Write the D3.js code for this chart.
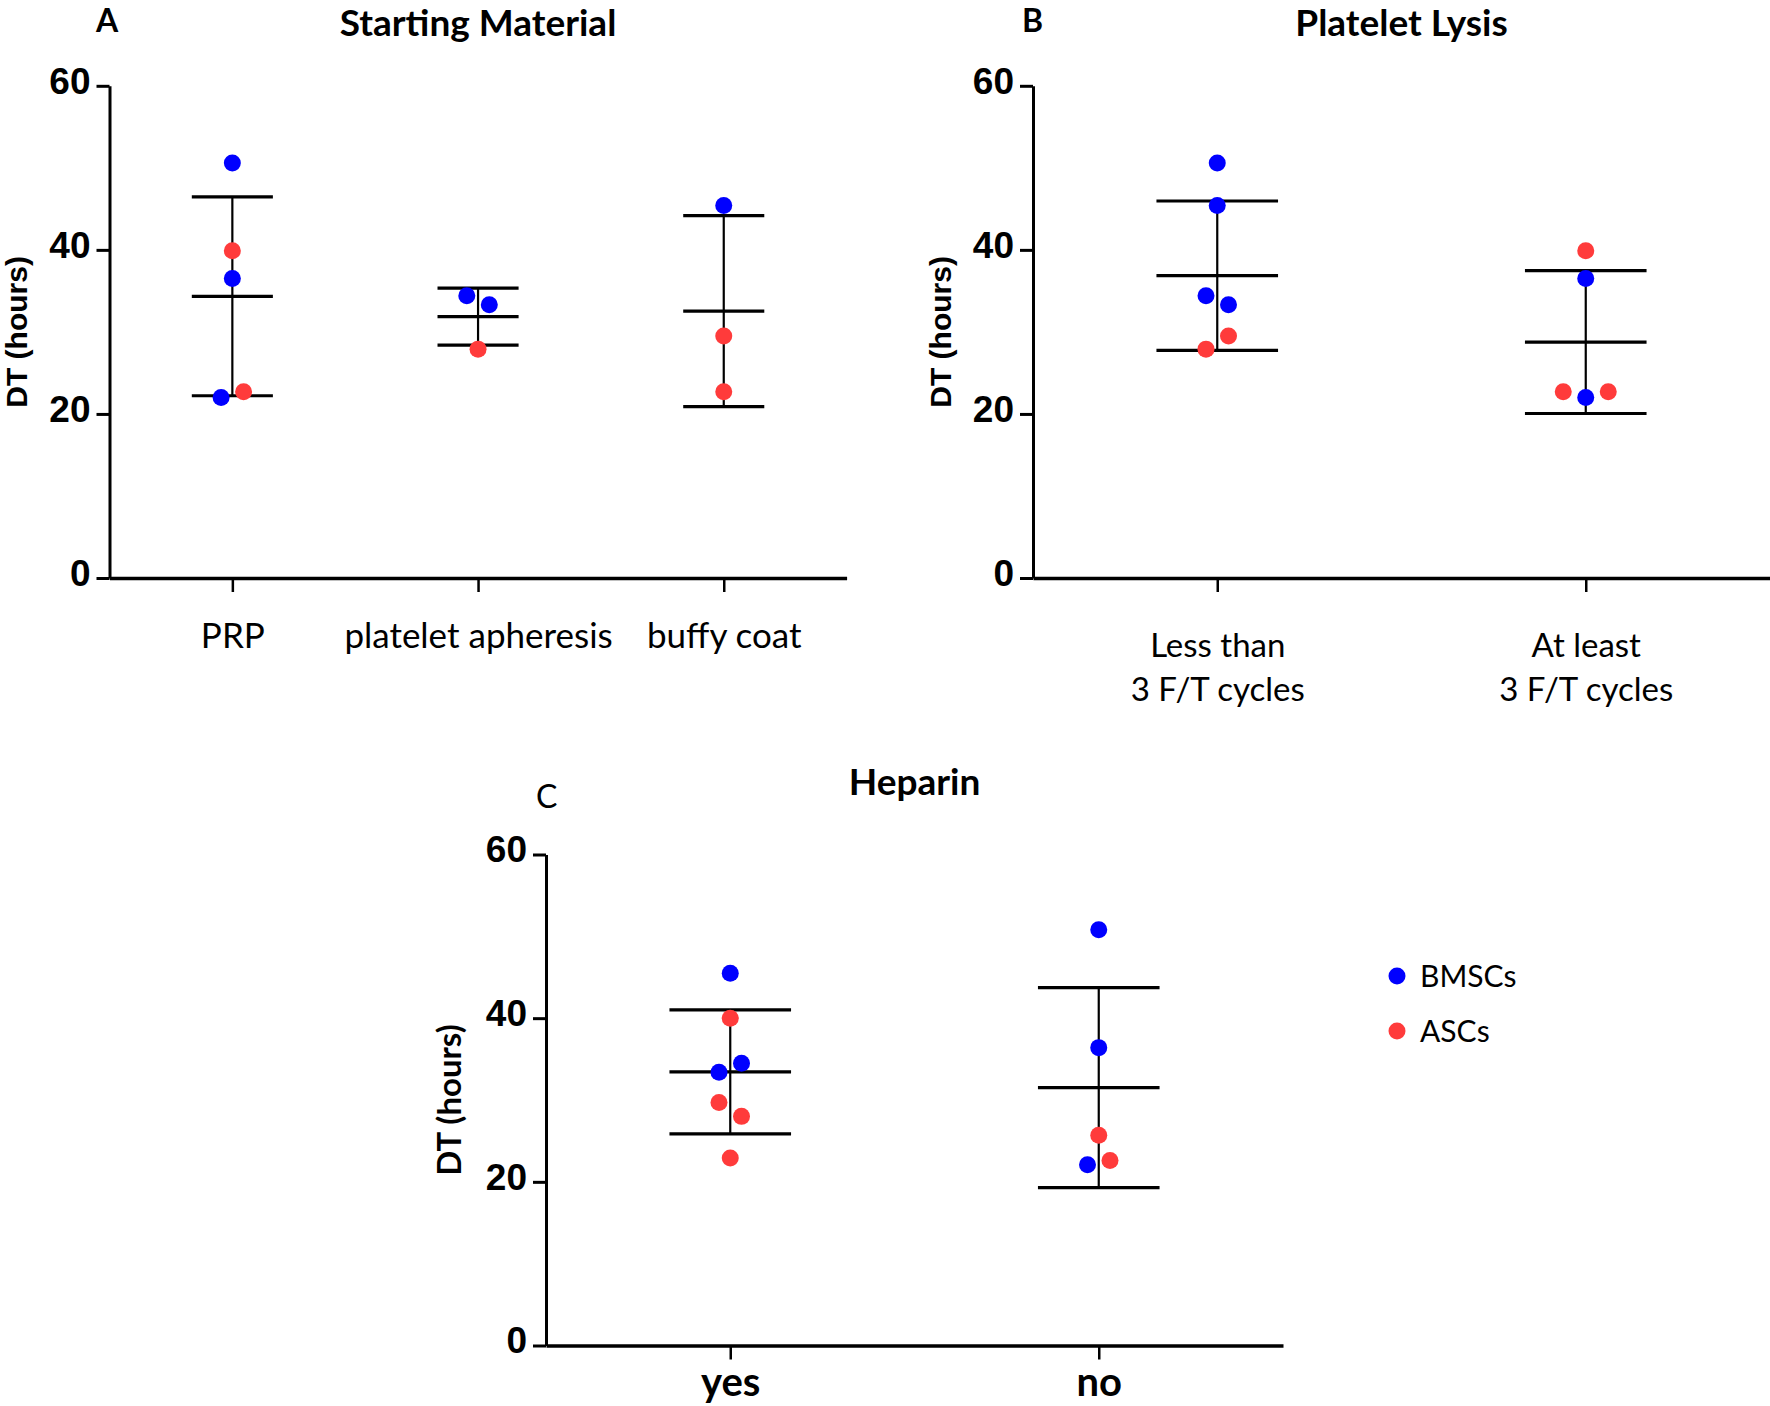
<!DOCTYPE html>
<html>
<head>
<meta charset="utf-8">
<script src="https://cdn.jsdelivr.net/npm/d3@7"></script>
<style>
  body { margin: 0; background: #fff; }
  svg { display: block; }
</style>
</head>
<body>
<svg id="chart" width="1770" height="1406"></svg>
<script>
const seriesNames = ['BMSCs', 'ASCs'];
const seriesColors = ['#0000ff', '#ff3b3b'];
const yTicks = [0, 20, 40, 60];

// A - starting material
const materialCats = ['PRP', 'platelet apheresis', 'buffy coat'];
const materialValues = [[50.6, 39.9, 36.5, 22.0, 22.7], [34.4, 33.3, 27.9], [45.4, 29.5, 22.7]];
const materialCells = [
    ['BMSCs', 'ASCs', 'BMSCs', 'BMSCs', 'ASCs'],
    ['BMSCs', 'BMSCs', 'ASCs'],
    ['BMSCs', 'ASCs', 'ASCs']
];

// B - platelet lysis
const lysisCats = ['Less than\n3 F/T cycles', 'At least\n3 F/T cycles'];
const lysisValues = [[50.6, 45.4, 34.4, 33.3, 27.9, 29.5], [39.9, 36.5, 22.7, 22.0, 22.7]];
const lysisCells = [
    ['BMSCs', 'BMSCs', 'BMSCs', 'BMSCs', 'ASCs', 'ASCs'],
    ['ASCs', 'BMSCs', 'ASCs', 'BMSCs', 'ASCs']
];

// C - heparin
const heparinCats = ['yes', 'no'];
const heparinValues = [[45.5, 40.0, 33.4, 34.5, 29.7, 28.0, 22.9], [50.8, 36.4, 25.7, 22.1, 22.6]];
const heparinCells = [
    ['BMSCs', 'ASCs', 'BMSCs', 'BMSCs', 'ASCs', 'ASCs', 'ASCs'],
    ['BMSCs', 'BMSCs', 'ASCs', 'BMSCs', 'ASCs']
];

const svg = d3.select('#chart');
const color = d3.scaleOrdinal().domain(seriesNames).range(seriesColors);
const dotR = 8.5;
const dodgeStep = 22.5;

// spread points that overlap vertically, in array order, left to right
const dodge = (pts, y) => {
    const sorted = pts.slice().sort((a, b) => b.v - a.v);
    let cluster = [];
    const flush = () => {
        cluster.sort((a, b) => a.i - b.i);
        cluster.forEach((p, k) => { p.dx = (k - (cluster.length - 1) / 2) * dodgeStep; });
        cluster = [];
    };
    sorted.forEach(p => {
        if (cluster.length && Math.abs(y(cluster[cluster.length - 1].v) - y(p.v)) > 18) flush();
        cluster.push(p);
    });
    flush();
    return pts;
};

const drawPanel = p => {
    const g = svg.append('g');
    const x = d3.scalePoint().domain(p.cats).range([p.left, p.right]).padding(0.5);
    const y = d3.scaleLinear().domain([0, 60]).range([p.bottom, p.top]);
    const capHalf = x.step() * 0.165;

    const yAxis = g.append('g')
        .attr('transform', `translate(${p.left},0)`)
        .call(d3.axisLeft(y).tickValues(yTicks).tickSize(13).tickPadding(6).tickSizeOuter(0));
    yAxis.select('.domain').attr('stroke-width', 3);
    yAxis.selectAll('.tick line').attr('stroke-width', 3);
    yAxis.selectAll('.tick text')
        .attr('dy', '0.2em')
        .style('font-family', '"Liberation Sans", Arial, sans-serif')
        .style('font-weight', 'bold')
        .style('font-size', '37px')
        .attr('fill', '#000');

    const xAxis = g.append('g')
        .attr('transform', `translate(0,${p.bottom})`)
        .call(d3.axisBottom(x).tickSize(14).tickSizeOuter(0));
    xAxis.select('.domain').attr('stroke-width', 3.5);
    xAxis.selectAll('.tick line').attr('stroke-width', 2.5);
    xAxis.selectAll('.tick text').remove();
    xAxis.selectAll('.tick').each(function(cat) {
        const t = d3.select(this).append('text')
            .attr('fill', '#000')
            .attr('text-anchor', 'middle')
            .style('font-family', 'Lato, sans-serif')
            .style('font-size', p.labelSize + 'px')
            .style('font-weight', p.labelBold ? 'bold' : 'normal');
        cat.split('\n').forEach((line, k) => {
            t.append('tspan').attr('x', 0).attr('y', p.labelDy + k * 44).text(line);
        });
    });

    // mean and SD bars
    const stats = p.values.map((vals, i) => ({
        cat: p.cats[i],
        mean: d3.mean(vals),
        sd: d3.deviation(vals)
    }));
    const bars = g.append('g').attr('stroke', '#000');
    bars.selectAll('line.stem')
        .data(stats)
        .join('line')
        .attr('class', 'stem')
        .attr('x1', d => x(d.cat)).attr('x2', d => x(d.cat))
        .attr('y1', d => y(d.mean - d.sd)).attr('y2', d => y(d.mean + d.sd))
        .attr('stroke-width', 2.2);
    const caps = stats.flatMap(d => [d.mean - d.sd, d.mean, d.mean + d.sd].map(v => ({ cat: d.cat, v })));
    bars.selectAll('line.cap')
        .data(caps)
        .join('line')
        .attr('class', 'cap')
        .attr('x1', d => x(d.cat) - capHalf).attr('x2', d => x(d.cat) + capHalf)
        .attr('y1', d => y(d.v)).attr('y2', d => y(d.v))
        .attr('stroke-width', 3.2);

    // points
    const pts = p.values.flatMap((vals, i) =>
        dodge(vals.map((v, j) => ({ cat: p.cats[i], v, cell: p.cells[i][j], i: j })), y));
    g.append('g').selectAll('circle')
        .data(pts)
        .join('circle')
        .attr('cx', d => x(d.cat) + d.dx)
        .attr('cy', d => y(d.v))
        .attr('r', dotR)
        .attr('fill', d => color(d.cell));

    // y title
    g.append('text')
        .attr('transform', `translate(${p.yTitleX},${(p.top + p.bottom) / 2}) rotate(-90)`)
        .attr('text-anchor', 'middle')
        .attr('dy', '0.35em')
        .style('font-family', p.yTitleFont)
        .style('font-weight', 'bold')
        .style('font-size', p.yTitleSize + 'px')
        .text('DT (hours)');

    // panel title and letter
    g.append('text')
        .attr('x', (p.left + p.right) / 2)
        .attr('y', p.titleY)
        .attr('text-anchor', 'middle')
        .style('font-family', 'Lato, sans-serif')
        .style('font-weight', 'bold')
        .style('font-size', '37px')
        .text(p.title);
    g.append('text')
        .attr('x', p.letterX)
        .attr('y', p.letterY)
        .style('font-family', 'Lato, sans-serif')
        .style('font-weight', p.letterBold ? 'bold' : 'normal')
        .style('font-size', '32px')
        .text(p.letter);
};

drawPanel({
    cats: materialCats, values: materialValues, cells: materialCells,
    left: 109.5, right: 846.6, top: 85.8, bottom: 578,
    labelDy: 70, labelSize: 35, labelBold: false,
    yTitleX: 16, yTitleSize: 30, yTitleFont: '"Liberation Sans", Arial, sans-serif',
    title: 'Starting Material', titleY: 36, letter: 'A', letterX: 96, letterY: 32, letterBold: true
});

drawPanel({
    cats: lysisCats, values: lysisValues, cells: lysisCells,
    left: 1033, right: 1770, top: 85.8, bottom: 578,
    labelDy: 79, labelSize: 33, labelBold: false,
    yTitleX: 940, yTitleSize: 30, yTitleFont: '"Liberation Sans", Arial, sans-serif',
    title: 'Platelet Lysis', titleY: 36, letter: 'B', letterX: 1022, letterY: 32, letterBold: true
});

drawPanel({
    cats: heparinCats, values: heparinValues, cells: heparinCells,
    left: 546, right: 1283, top: 854.5, bottom: 1345.5,
    labelDy: 50, labelSize: 40, labelBold: true,
    yTitleX: 449, yTitleSize: 33, yTitleFont: 'Lato, sans-serif',
    title: 'Heparin', titleY: 795, letter: 'C', letterX: 536, letterY: 808, letterBold: false
});

// legend
const legend = svg.append('g').attr('transform', 'translate(1397,976)');
const legendItem = legend.selectAll('g')
    .data(seriesNames)
    .join('g')
    .attr('transform', (d, i) => `translate(0,${i * 55})`);
legendItem.append('circle').attr('r', dotR).attr('fill', d => color(d));
legendItem.append('text')
    .attr('x', 23)
    .attr('dy', '0.36em')
    .style('font-family', 'Lato, sans-serif')
    .style('font-size', '30px')
    .text(d => d);
</script>
</body>
</html>
